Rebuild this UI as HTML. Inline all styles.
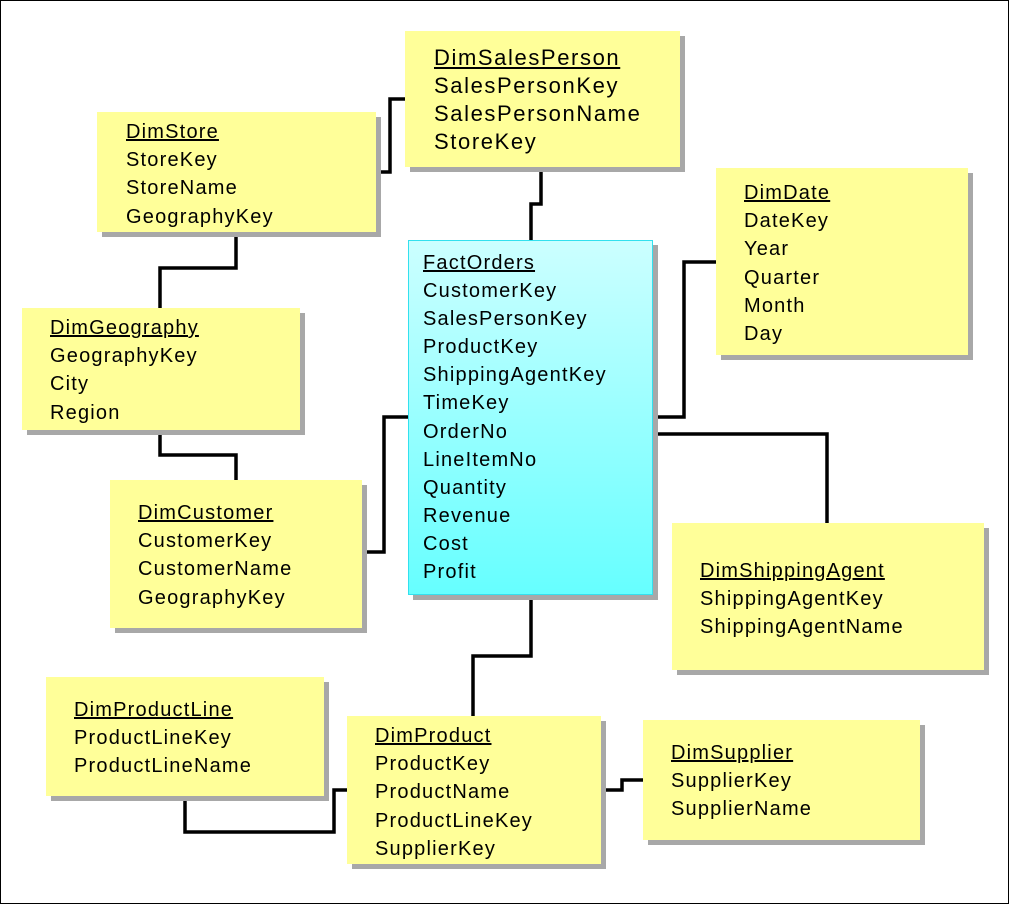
<!DOCTYPE html>
<html><head><style>
body{margin:0;width:1009px;height:904px;background:#fff;position:relative;overflow:hidden;font-family:"Liberation Sans",sans-serif;}
.frame{position:absolute;left:0;top:0;width:1007px;height:902px;border:1px solid #000;}
.b{position:absolute;background:#ffff99;box-shadow:5px 5px 0 #a8a8a8;box-sizing:border-box;font-size:20px;letter-spacing:1.2px;line-height:28.2px;color:#000;white-space:nowrap;}
.b u{text-decoration:underline;}
.f{background:linear-gradient(#ccffff,#66ffff);border:1px solid #33e0ee;}
svg{position:absolute;left:0;top:0;}
</style></head><body>
<div class="frame"></div>
<svg width="1009" height="904"><g fill="none" stroke="#000" stroke-width="3.5">
<path d="M376 172H390V99H405"/>
<path d="M541 167V204H531V240"/>
<path d="M236 232V268H160V308"/>
<path d="M160 430V455H236V480"/>
<path d="M362 552H384V417H408"/>
<path d="M653 417H684V262H716"/>
<path d="M653 434H827V523"/>
<path d="M531 595V656H473V716"/>
<path d="M185 796V832H334V790H347"/>
<path d="M601 790H622V780H643"/>
</g></svg>
<div class="b" style="left:405px;top:31px;width:275px;height:136px;padding:13px 0 0 29px;font-size:22px;line-height:28px;letter-spacing:1.6px"><u>DimSalesPerson</u><br>SalesPersonKey<br>SalesPersonName<br>StoreKey</div>
<div class="b" style="left:97px;top:112px;width:279px;height:120px;padding:6px 0 0 29px"><u>DimStore</u><br>StoreKey<br>StoreName<br>GeographyKey</div>
<div class="b" style="left:22px;top:308px;width:278px;height:122px;padding:6px 0 0 28px"><u>DimGeography</u><br>GeographyKey<br>City<br>Region</div>
<div class="b" style="left:110px;top:480px;width:252px;height:148px;padding:19px 0 0 28px"><u>DimCustomer</u><br>CustomerKey<br>CustomerName<br>GeographyKey</div>
<div class="b f" style="left:408px;top:240px;width:245px;height:355px;padding:8px 0 0 14px;line-height:28.1px"><u>FactOrders</u><br>CustomerKey<br>SalesPersonKey<br>ProductKey<br>ShippingAgentKey<br>TimeKey<br>OrderNo<br>LineItemNo<br>Quantity<br>Revenue<br>Cost<br>Profit</div>
<div class="b" style="left:716px;top:168px;width:252px;height:187px;padding:11px 0 0 28px"><u>DimDate</u><br>DateKey<br>Year<br>Quarter<br>Month<br>Day</div>
<div class="b" style="left:672px;top:523px;width:312px;height:147px;padding:34px 0 0 28px"><u>DimShippingAgent</u><br>ShippingAgentKey<br>ShippingAgentName</div>
<div class="b" style="left:46px;top:677px;width:278px;height:119px;padding:19px 0 0 28px"><u>DimProductLine</u><br>ProductLineKey<br>ProductLineName</div>
<div class="b" style="left:347px;top:716px;width:254px;height:148px;padding:6px 0 0 28px"><u>DimProduct</u><br>ProductKey<br>ProductName<br>ProductLineKey<br>SupplierKey</div>
<div class="b" style="left:643px;top:720px;width:277px;height:120px;padding:19px 0 0 28px"><u>DimSupplier</u><br>SupplierKey<br>SupplierName</div>
</body></html>
